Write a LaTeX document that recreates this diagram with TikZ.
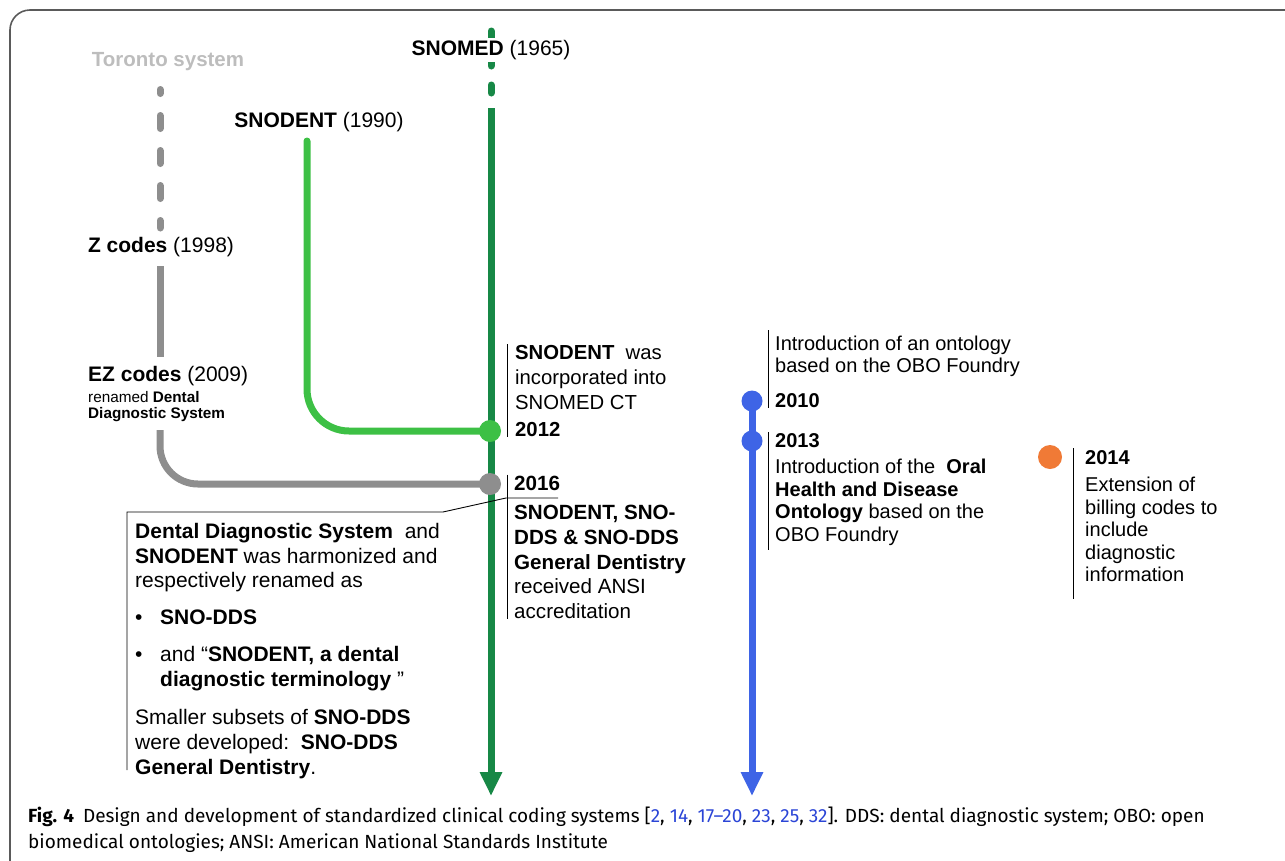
\documentclass[tikz,border=0pt]{standalone}
\usepackage{fontspec}
\setmainfont{Liberation Sans}
\newfontfamily\capfont{Fira Sans}
\usetikzlibrary{arrows.meta,positioning}

\definecolor{framegray}{HTML}{5A5A5A}
\definecolor{toronto}{HTML}{BDBDBD}
\definecolor{codegray}{HTML}{8E8E8E}
\definecolor{snomedgreen}{HTML}{178846}
\definecolor{snodentgreen}{HTML}{3DC045}
\definecolor{ontoblue}{HTML}{3E64E6}
\definecolor{billorange}{HTML}{F07A36}
\definecolor{refblue}{HTML}{2B45D6}

\newcommand{\refnum}[1]{\textcolor{refblue}{#1}}

\begin{document}
\begin{tikzpicture}[x=1pt, y=-1pt,
	trunk/.style={line width=7pt},
	eventdot/.style={circle, fill=#1, minimum size=22pt, inner sep=0pt},
	txt/.style={anchor=north west, inner sep=0pt, align=left, font=\fontsize{20.6}{24.7}\selectfont},
	rtxt/.style={txt, font=\fontsize{20}{22.5}\selectfont},
	yearname/.style={font=\fontsize{21}{24}\selectfont},
	rulebar/.style={line width=0.9pt},
	downarrow/.style={-{Triangle[length=24pt, width=21pt]}}
]
	\useasboundingbox (0,0) rectangle (1285,860);

	% frame
	\draw [framegray, line width=1.6pt, rounded corners=20pt] (10,870) -- (10,10) -- (1300,10);

	% Toronto system -> Z codes -> EZ codes
	\node[yearname, text=toronto, font=\fontsize{20.5}{24}\selectfont\bfseries] (toronto) at (168,62) {Toronto system};
	\coordinate (torontoend) at (160,89.5);
	\coordinate (zcodestop) at (160,228);
	\draw [trunk, codegray, line cap=round, dash pattern=on 13pt off 22pt, dash phase=9pt] (torontoend) -- (zcodestop);

	\node[yearname] (zcodes) at (161,247) {\textbf{Z codes}\ (1998)};
	\coordinate (zcodesend) at (160,266);
	\coordinate (ezcodestop) at (160,357);
	\draw [trunk, codegray] (zcodesend) -- (ezcodestop);

	\node[txt, font=\fontsize{21}{24}\selectfont] (ezcodes) at (88,366) {\textbf{EZ codes}\ (2009)};
	\node[txt, font=\fontsize{15.3}{15.5}\selectfont] (ezrenamed) at (88,391.3) {renamed \textbf{Dental}\\ \textbf{Diagnostic System}};

	\coordinate (ezcodesend) at (160,430);
	\coordinate (y2016) at (490,484);
	\draw [trunk, codegray, rounded corners=38pt] (ezcodesend) |- (y2016);

	% SNODENT
	\node[yearname] (snodent) at (319,122) {\textbf{SNODENT} (1990)};
	\coordinate (snodentstart) at (307,141);
	\coordinate (y2012) at (490,431);
	\draw [trunk, snodentgreen, line cap=round, rounded corners=42pt] (snodentstart) |- (y2012);

	% SNOMED
	\coordinate (snomedtop) at (491,31);
	\coordinate (snomedsolid) at (491,108);
	\coordinate (snomedend) at (491,796);
	\draw [trunk, snomedgreen, line cap=round, dash pattern=on 8pt off 19pt] (snomedtop) -- (snomedsolid);
	\draw [trunk, snomedgreen, downarrow] (snomedsolid) -- (snomedend);
	\node[yearname, fill=white, inner sep=2pt] (snomed) at (491,50) {\textbf{SNOMED} (1965)};

	% ontology line
	\coordinate (y2010) at (752,401);
	\coordinate (y2013) at (752,441);
	\coordinate (ontoend) at (752,796);
	\draw [trunk, ontoblue, downarrow] (y2010) -- (ontoend);

	% events
	\node[eventdot=snodentgreen] (dot2012) at (y2012) {};
	\node[eventdot=codegray] (dot2016) at (y2016) {};
	\node[eventdot=ontoblue, minimum size=21pt] (dot2010) at (y2010) {};
	\node[eventdot=ontoblue, minimum size=21pt] (dot2013) at (y2013) {};
	\node[eventdot=billorange, minimum size=24pt] (dot2014) at (1050,457) {};

	% 2012
	\node[txt, font=\fontsize{20.3}{24.7}\selectfont] (t2012) at (515,345.3) {\textbf{SNODENT}\ \ was\\ incorporated into\\ SNOMED CT\\[3pt] \textbf{2012}};
	\draw [rulebar] ([xshift=-8pt, yshift=1pt]t2012.north west) -- ([xshift=-8pt]t2012.south west);

	% 2016
	\node[txt] (t2016) at (514,476.2) {\textbf{2016}\\[4.3pt] \textbf{SNODENT, SNO-}\\ \textbf{DDS \& SNO-DDS}\\ \textbf{General Dentistry}\\ received ANSI\\ accreditation};
	\draw [rulebar] ([xshift=-7pt, yshift=1.5pt]t2016.north west) -- ([xshift=-7pt]t2016.south west);

	% harmonization box
	\node[txt, font=\fontsize{21}{24.7}\selectfont] (harmonized) at (135,523.1) {\textbf{Dental Diagnostic System}\ \ and\\
		\textbf{SNODENT} was harmonized and\\
		respectively renamed as\\[12.3pt]
		\makebox[25pt][l]{\textbullet}\textbf{SNO-DDS}\\[12.3pt]
		\makebox[25pt][l]{\textbullet}and “\textbf{SNODENT, a dental}\\
		\hspace*{25pt}\textbf{diagnostic terminology}\ ”\\[13.3pt]
		Smaller subsets of \textbf{SNO-DDS}\\
		were developed:\ \ \textbf{SNO-DDS}\\
		\textbf{General Dentistry}.};
	\coordinate (boxbottom) at (127,770);
	\coordinate (boxcorner) at (127,512);
	\coordinate (boxbend) at (443,512);
	\coordinate (calloutkink) at (506,498);
	\coordinate (calloutend) at (558,498);
	\draw [rulebar] (boxbottom) -- (boxcorner) -- (boxbend) -- (calloutkink) -- (calloutend);

	% 2010
	\node[rtxt] (t2010) at (775,335.5) {Introduction of an ontology\\ based on the OBO Foundry\\[12.5pt] \textbf{2010}};
	\draw [rulebar] ([xshift=-7pt, yshift=5.5pt]t2010.north west) -- ([xshift=-7pt]t2010.south west);

	% 2013
	\node[rtxt] (t2013) at (775,433.5) {\textbf{2013}\\[3.5pt] Introduction of the\ \ \textbf{Oral}\\ \textbf{Health and Disease}\\ \textbf{Ontology} based on the\\ OBO Foundry};
	\draw [rulebar] ([xshift=-7pt, yshift=1.5pt]t2013.north west) -- ([xshift=-7pt, yshift=-4pt]t2013.south west);

	% 2014
	\node[rtxt] (t2014) at (1085,450.5) {\textbf{2014}\\[4.5pt] Extension of\\ billing codes to\\ include\\ diagnostic\\ information};
	\draw [rulebar] ([xshift=-12pt, yshift=2.5pt]t2014.north west) -- ([xshift=-12pt, yshift=-17pt]t2014.south west);

	% caption
	\node[anchor=north west, inner sep=0pt, align=left, font=\capfont\fontsize{19}{26}\selectfont] (caption) at (28,806.5) {\textbf{Fig. 4}\hspace{9pt}Design and development of standardized clinical coding systems [\refnum{2}, \refnum{14}, \refnum{17–20}, \refnum{23}, \refnum{25}, \refnum{32}]. DDS: dental diagnostic system; OBO: open\\ biomedical ontologies; ANSI: American National Standards Institute};
\end{tikzpicture}
\end{document}
